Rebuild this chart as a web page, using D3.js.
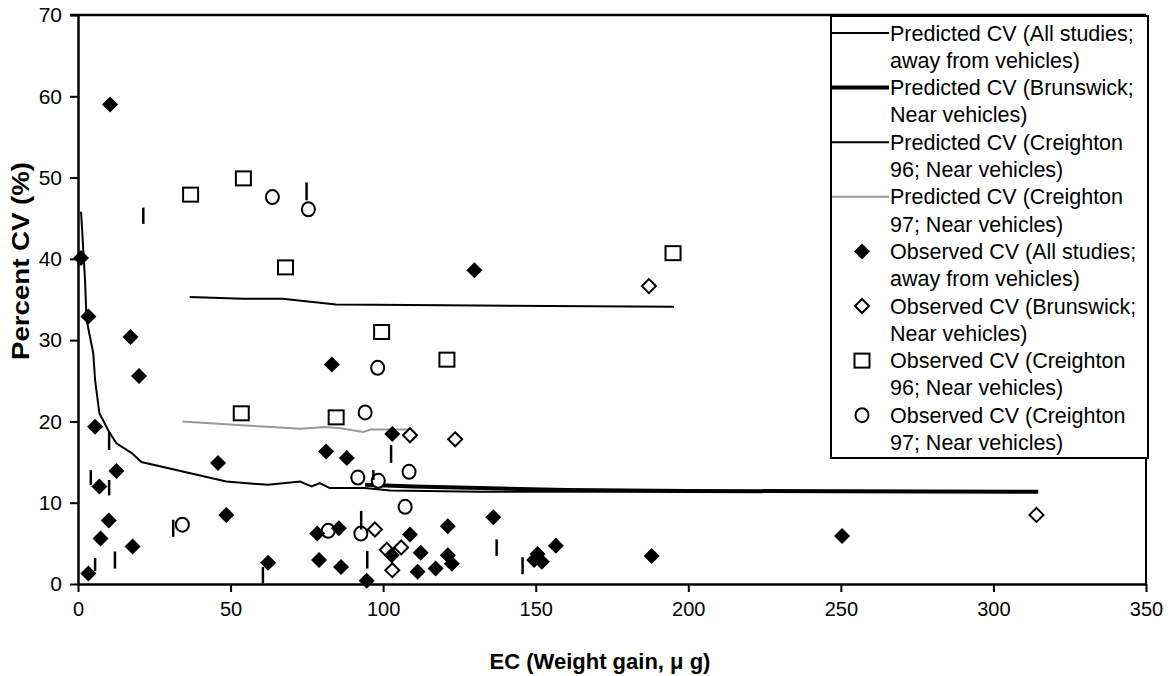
<!DOCTYPE html>
<html><head><meta charset="utf-8">
<script src="https://cdn.jsdelivr.net/npm/d3@7"></script>
<style>body{margin:0;background:#fff}svg{display:block}text{font-family:"Liberation Sans",Arial,sans-serif}</style>
</head><body><svg id="c" width="1174" height="676"></svg>
<script>
const xTicks=[0,50,100,150,200,250,300,350];
const yTicks=[0,10,20,30,40,50,60,70];
const predAway=[[1,45.8],[2.3,37.4],[2.8,32.5],[5,28.4],[5.6,25.1],[7,21],[10.2,18.7],[12.6,17.3],[17.6,16.1],[20.8,15.0],[48.6,12.6],[62.3,12.2],[72.8,12.6],[76.5,12.0],[79.2,12.4],[82.5,11.8],[94,11.8],[102.3,11.5],[131.8,11.35],[250.2,11.4]];
const predBrunswick=[[94.1,12.2],[110,12.0],[131.8,11.8],[160,11.55],[200,11.45],[250,11.4],[314.7,11.35]];
const predCreighton96=[[36.6,35.3],[54,35.1],[67,35.1],[84.6,34.4],[120,34.3],[195.3,34.1]];
const predCreighton97=[[34.2,20.0],[55,19.5],[72.8,19.1],[81,19.3],[86,19.15],[93.5,18.7],[95.8,19.0],[108.8,19.0]];
const obsAway=[[1.0,40.1],[10.5,59.0],[3.4,32.9],[17.2,30.4],[20.0,25.6],[5.6,19.35],[12.6,13.9],[7.0,12.0],[10.1,7.8],[7.4,5.6],[17.9,4.6],[3.4,1.3],[45.9,14.9],[48.6,8.5],[62.3,2.6],[83.2,27.0],[81.3,16.3],[88.1,15.5],[78.4,6.2],[85.5,6.85],[79,2.95],[86.2,2.1],[94.6,0.4],[103.0,18.45],[108.8,6.1],[121.2,7.1],[102.8,3.55],[112.3,3.85],[111.3,1.5],[117.2,1.9],[121.2,3.55],[122.5,2.5],[129.9,38.6],[136.1,8.2],[149.5,2.95],[150.6,3.7],[152,2.75],[156.6,4.7],[188,3.45],[250.4,5.9]];
const obsBrunswick=[[108.8,18.3],[123.6,17.8],[97.3,6.7],[101.2,4.2],[105.9,4.5],[103,1.7],[187.1,36.65],[314.1,8.5]];
const obsCreighton96=[[36.9,47.9],[54.2,49.9],[68.0,38.95],[53.5,21.0],[84.6,20.5],[99.5,31.0],[120.9,27.6],[195,40.7]];
const obsCreighton97=[[63.7,47.6],[75.5,46.1],[34.2,7.3],[82,6.55],[98.2,26.6],[94.1,21.1],[91.7,13.1],[98.4,12.7],[108.5,13.8],[107.2,9.5],[92.7,6.2]];
const bars=[[10.2,18.7,16.5],[4.2,14.0,12.2],[10.2,12.8,10.9],[12.1,4.0,1.9],[31.2,7.9,5.8],[5.6,3.2,1.6],[60.6,2.1,0.1],[21.4,46.3,44.3],[74.9,49.4,47.2],[102.6,17.1,14.9],[96.8,14.0,12.8],[92.8,9.0,6.7],[94.8,4.05,1.9],[137.2,5.5,3.45],[145.7,3.3,1.2]];
const legendLabels=[["Predicted CV (All studies;","away from vehicles)"],["Predicted CV (Brunswick;","Near vehicles)"],["Predicted CV (Creighton","96; Near vehicles)"],["Predicted CV (Creighton","97; Near vehicles)"],["Observed CV (All studies;","away from vehicles)"],["Observed CV (Brunswick;","Near vehicles)"],["Observed CV (Creighton","96; Near vehicles)"],["Observed CV (Creighton","97; Near vehicles)"]];

const svg=d3.select("#c");
const L=78,R=1146,T=15,B=584;
const x=d3.scaleLinear().domain([0,350]).range([L,R]);
const y=d3.scaleLinear().domain([0,70]).range([B,T]);

const gx=svg.append("g").attr("transform",`translate(0,${B})`).call(d3.axisBottom(x).tickValues(xTicks).tickSize(8).tickSizeOuter(0).tickPadding(10));
const gy=svg.append("g").attr("transform",`translate(${L},0)`).call(d3.axisLeft(y).tickValues(yTicks).tickSize(8).tickSizeOuter(0).tickPadding(8));
[gx,gy].forEach(g=>{g.select(".domain").attr("stroke","#000").attr("stroke-width",2.5);
 g.selectAll(".tick line").attr("stroke","#000").attr("stroke-width",2);
 g.selectAll(".tick text").attr("fill","#000").style("font-size","20px");});
gy.selectAll(".tick text").style("font-size","21px");
svg.append("line").attr("x1",L-8).attr("x2",R).attr("y1",T).attr("y2",T).attr("stroke","#000").attr("stroke-width",2.5);
svg.append("line").attr("x1",R).attr("x2",R).attr("y1",T).attr("y2",B).attr("stroke","#000").attr("stroke-width",2);

svg.append("text").attr("x",600).attr("y",669).attr("text-anchor","middle").style("font-size","22px").style("font-weight","bold").text("EC (Weight gain, μ g)");
svg.append("text").attr("transform","translate(29,261) rotate(-90)").attr("text-anchor","middle").attr("textLength",198).attr("lengthAdjust","spacingAndGlyphs").style("font-size","24px").style("font-weight","bold").text("Percent CV (%)");

const line=d3.line().x(d=>x(d[0])).y(d=>y(d[1]));
const lines=svg.append("g");
lines.append("path").datum(predCreighton96).attr("d",line).attr("fill","none").attr("stroke","#000").attr("stroke-width",2);
lines.append("path").datum(predCreighton97).attr("d",line).attr("fill","none").attr("stroke","#999").attr("stroke-width",2);
lines.append("path").datum(predBrunswick).attr("d",line).attr("fill","none").attr("stroke","#000").attr("stroke-width",4);
lines.append("path").datum(predAway).attr("d",line).attr("fill","none").attr("stroke","#000").attr("stroke-width",2);

const diamondF=(g,cx,cy,r)=>g.append("path").attr("d",`M${cx},${cy-r}L${cx+r},${cy}L${cx},${cy+r}L${cx-r},${cy}Z`).attr("fill","#000");
const diamondO=(g,cx,cy,r)=>g.append("path").attr("d",`M${cx},${cy-r}L${cx+r},${cy}L${cx},${cy+r}L${cx-r},${cy}Z`).attr("fill","#fff").attr("stroke","#000").attr("stroke-width",2);
const square=(g,cx,cy)=>g.append("rect").attr("x",cx-7.5).attr("y",cy-7).attr("width",15).attr("height",14).attr("fill","#fff").attr("stroke","#000").attr("stroke-width",2);
const circle=(g,cx,cy)=>g.append("ellipse").attr("cx",cx).attr("cy",cy).attr("rx",6.5).attr("ry",7).attr("fill","#fff").attr("stroke","#000").attr("stroke-width",2);

const mk=svg.append("g");
obsCreighton96.forEach(d=>square(mk,x(d[0]),y(d[1])));
obsCreighton97.forEach(d=>circle(mk,x(d[0]),y(d[1])));
obsBrunswick.forEach(d=>diamondO(mk,x(d[0]),y(d[1]),7));
obsAway.forEach(d=>diamondF(mk,x(d[0]),y(d[1]),8));
svg.append("g").selectAll("line").data(bars).join("line")
 .attr("x1",d=>x(d[0])).attr("x2",d=>x(d[0])).attr("y1",d=>y(d[1])).attr("y2",d=>y(d[2]))
 .attr("stroke","#000").attr("stroke-width",2.5);

const lg=svg.append("g");
lg.append("rect").attr("x",831).attr("y",16).attr("width",317).attr("height",442).attr("fill","#fff").attr("stroke","#000").attr("stroke-width",2);
const lstyles=[["#000",2],["#000",4],["#000",2],["#999",2]];
legendLabels.forEach((lab,i)=>{
 const cy=33+54.6*i;
 if(i<4){lg.append("line").attr("x1",832).attr("x2",889).attr("y1",cy).attr("y2",cy).attr("stroke",lstyles[i][0]).attr("stroke-width",lstyles[i][1]);}
 else if(i===4) diamondF(lg,862,cy,8);
 else if(i===5) diamondO(lg,862,cy,7);
 else if(i===6) square(lg,862,cy);
 else circle(lg,862,cy);
 lab.forEach((t,j)=>lg.append("text").attr("x",890).attr("y",cy+27.3*j+7.5).style("font-size","21.5px").attr("fill","#000").text(t));
});
</script></body></html>
